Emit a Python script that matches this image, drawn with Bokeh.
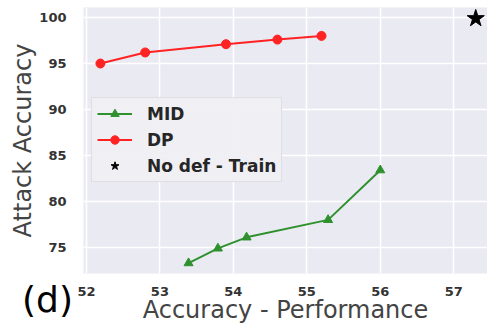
import math
from bokeh.plotting import figure
from bokeh.models import Legend, FixedTicker, Range1d
from bokeh.core.properties import value
from bokeh.embed import file_html
from bokeh.resources import INLINE

# data
mid_x = [53.39, 53.79, 54.18, 55.29, 56.0]
mid_y = [73.3, 74.9, 76.1, 78.0, 83.4]
dp_x = [52.19, 52.8, 53.9, 54.6, 55.2]
dp_y = [95.0, 96.2, 97.1, 97.6, 98.0]
nodef_x = [57.3]
nodef_y = [99.9]
x_ticks = [52, 53, 54, 55, 56, 57]
y_ticks = [75, 80, 85, 90, 95, 100]
x_label = "Accuracy - Performance"
y_label = "Attack Accuracy"
panel_tag = "(d)"

FONT = "DejaVu Sans"
GREEN = "#2e912e"
RED = "#ff2323"

X0, X1 = 51.96, 57.46
Y0, Y1 = 72.17, 101.09

p = figure(width=487, height=325, output_backend="svg", toolbar_location=None,
           x_range=Range1d(X0, X1), y_range=Range1d(Y0, Y1),
           min_border_left=83, min_border_right=0, min_border_top=7, min_border_bottom=52,
           background_fill_color="#eaeaf2", border_fill_color="white")
p.outline_line_color = None

for ax in (p.xaxis, p.yaxis):
    ax.axis_line_color = None
    ax.major_tick_line_color = None
    ax.minor_tick_line_color = None
    ax.major_label_text_font = FONT
    ax.major_label_text_font_style = "bold"
    ax.major_label_text_font_size = "13px"
    ax.major_label_text_color = "#333333"
p.xaxis.ticker = FixedTicker(ticks=x_ticks)
p.yaxis.ticker = FixedTicker(ticks=y_ticks)
p.xaxis.major_label_standoff = 7
p.yaxis.major_label_standoff = 11

p.grid.grid_line_color = "white"
p.grid.grid_line_width = 1.5

r1 = p.line(mid_x, mid_y, line_color=GREEN, line_width=2)
r2 = p.scatter(mid_x, mid_y, marker="triangle", size=9, fill_color=GREEN, line_color=GREEN)
r3 = p.line(dp_x, dp_y, line_color=RED, line_width=2)
r4 = p.scatter(dp_x, dp_y, marker="circle", size=9, fill_color=RED, line_color=RED)
r5 = p.scatter(nodef_x, nodef_y, marker="star", size=18, fill_color="black", line_color="black")

legend = Legend(items=[("MID", [r1, r2]), ("DP", [r3, r4]), ("No def - Train", [r5])],
                location=(8, 91), padding=5, spacing=5, label_height=21, glyph_height=21,
                glyph_width=35, label_standoff=15, margin=0,
                label_text_font=FONT, label_text_font_style="bold",
                label_text_font_size="17px", label_text_color="#262626",
                background_fill_color="#efeff4", background_fill_alpha=0.9,
                border_line_color="#d0d0d0", border_line_width=1)
p.add_layout(legend, "center")

# axis titles and panel tag, drawn as text glyphs at overlay level (outside the frame)
p.text(x=[51.143], y=[(Y0 + Y1) / 2], text=[y_label], angle=math.pi / 2,
       text_align="center", text_baseline="middle", text_font=value(FONT),
       text_font_size="24px", text_color="#444444", level="overlay")
p.text(x=[(X0 + X1) / 2], y=[68.25], text=[x_label], text_align="center",
       text_baseline="middle", text_font=value(FONT), text_font_size="24px",
       text_color="#444444", level="overlay")
p.text(x=[51.123], y=[69.35], text=[panel_tag], text_align="left",
       text_baseline="middle", text_font=value(FONT), text_font_size="36px",
       text_color="black", level="overlay")

open("out.html", "w").write(file_html(p, INLINE))
